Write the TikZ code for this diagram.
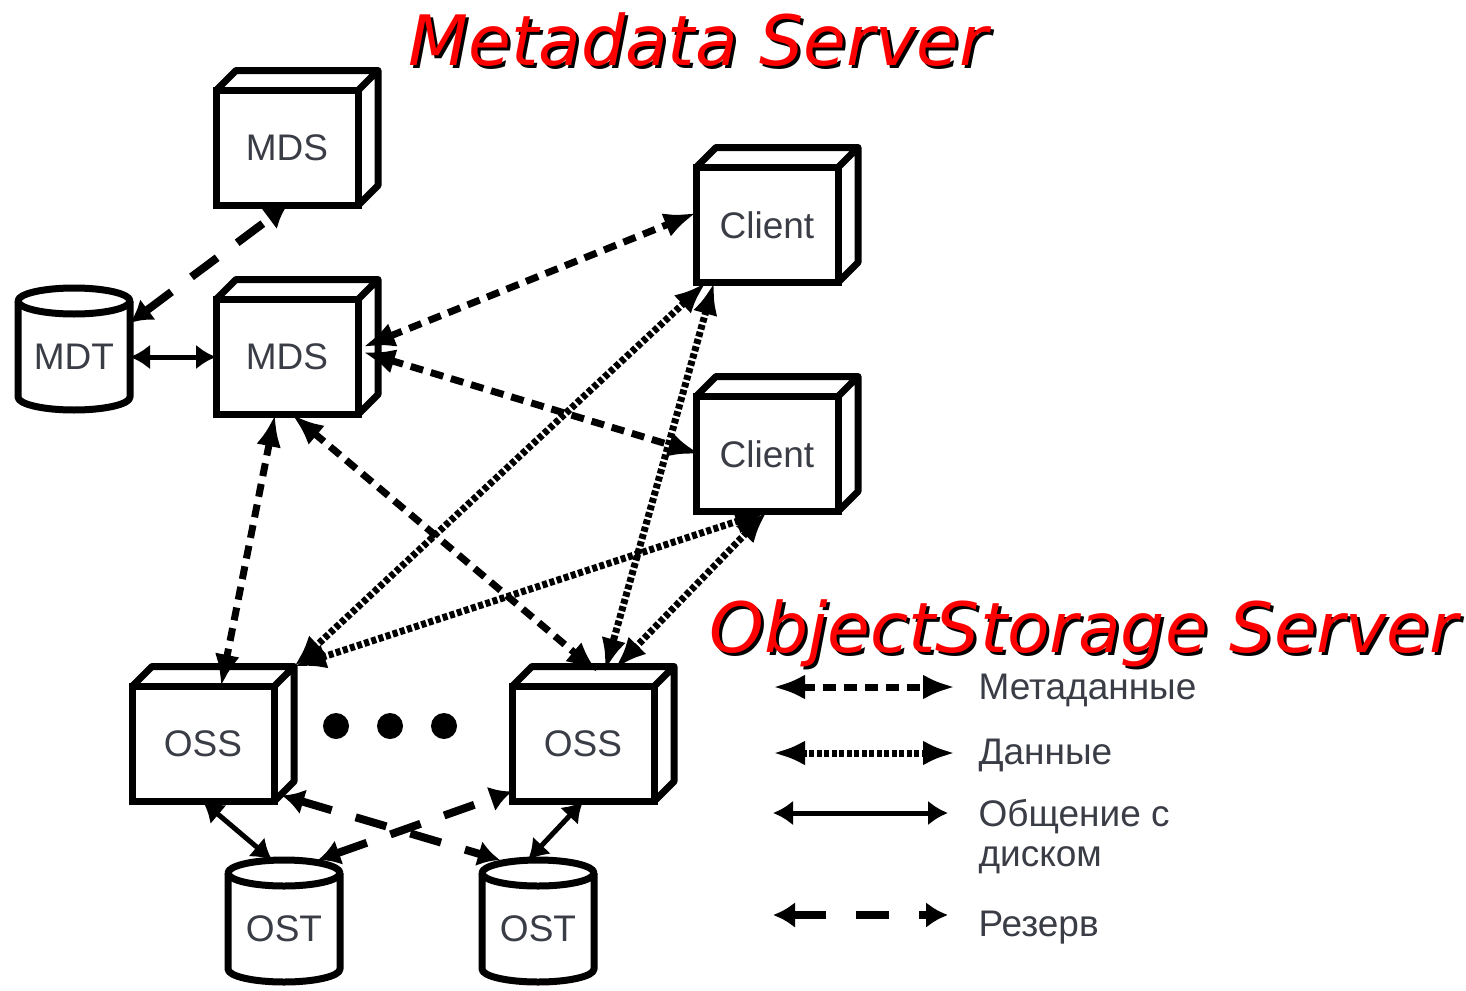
\documentclass[tikz,border=0pt]{standalone}
\usepackage{fontspec}
\setmainfont{Liberation Sans}
\newfontfamily\titlefont{DejaVu Sans}
\usetikzlibrary{arrows.meta}
\definecolor{labelgray}{RGB}{58,60,70}

\begin{document}
\begin{tikzpicture}[x=1pt,y=-1pt,
  server node/.style={rectangle,draw,fill=white,line width=7pt,minimum width=142pt,minimum height=115pt,inner sep=0pt,outer sep=0pt,text=labelgray,font=\fontsize{37}{40}\selectfont},
  disk node/.style={rectangle,minimum width=112pt,minimum height=122pt,inner sep=0pt,outer sep=0pt,text=labelgray,text height=40pt,text depth=0pt,font=\fontsize{37}{40}\selectfont},
  face/.style={line width=7pt,line join=round},
  ellipsis dot/.style={circle,fill=black,minimum size=26pt,inner sep=0pt},
  meta link/.style={line width=7pt,dash pattern=on 13pt off 8pt,>={Latex[length=32pt,width=25pt]},<->},
  data link/.style={line width=7pt,dash pattern=on 5pt off 2.5pt,>={Latex[length=32pt,width=25pt]},<->},
  disk link/.style={line width=5pt,>={Latex[length=20pt,width=25pt]},<->},
  backup link/.style={line width=8pt,dash pattern=on 32pt off 25pt,>={Latex[length=22pt,width=26pt]},<->},
  legend text/.style={anchor=base west,text=labelgray,font=\fontsize{37}{40}\selectfont},
  title text/.style={anchor=base west,font=\titlefont\itshape\fontsize{69.5}{80}\selectfont}]

  \useasboundingbox (0,0) rectangle (1466,990);

  \node[server node] (mds1) at (287,148) {MDS};
  \node[server node] (mds2) at (287,357) {MDS};
  \node[server node] (cl1) at (767,225) {Client};
  \node[server node] (cl2) at (767,454) {Client};
  \node[server node] (oss1) at (203,744) {OSS};
  \node[server node] (oss2) at (583,744) {OSS};

  \node[disk node] (mdt) at (74,349) {MDT};
  \node[disk node] (ost1) at (284,921) {OST};
  \node[disk node] (ost2) at (538,921) {OST};

  \foreach \n in {mds1,mds2,cl1,cl2,oss1,oss2}
    \draw[face] (\n.north west) -- ++(20,-20) -- ++(142,0) -- ++(0,115) -- (\n.south east)
      (\n.north east) -- ++(20,-20);

  \foreach \n in {mdt,ost1,ost2} {
    \draw[face] ([yshift=-13pt]\n.north west) -- ([yshift=13pt]\n.south west) arc (180:0:56 and 13)
      -- ([yshift=-13pt]\n.north east);
    \draw[face] ([yshift=-13pt]\n.north) ellipse (56 and 13);
  }

  \node[ellipsis dot] (dot1) at (336,726) {};
  \node[ellipsis dot] (dot2) at (390,726) {};
  \node[ellipsis dot] (dot3) at (444,726) {};

  \draw[backup link] (mdt.25) -- (mds1.south);
  \draw[disk link] ([yshift=-8pt]mdt.east) -- (mds2.west);

  \draw[meta link] ([shift={(5,-10)}]mds2.east) -- ([yshift=12pt]cl1.west);
  \draw[meta link] ([shift={(5,-5)}]mds2.east) -- ([xshift=4pt]cl2.west);
  \draw[meta link] ([xshift=-12pt]mds2.south) -- ([xshift=18pt]oss1.north);
  \draw[meta link] ([xshift=5pt]mds2.south) -- ([shift={(15,-14)}]oss2.north);

  \draw[data link] ([xshift=10pt]cl1.south west) -- ([shift={(20,-20)}]oss1.north east);
  \draw[data link] ([xshift=18pt]cl1.south west) -- ([shift={(22,-16)}]oss2.north);
  \draw[data link] (cl2.south) -- ([shift={(20,-20)}]oss1.north east);
  \draw[data link] (cl2.south) -- ([shift={(32,-18)}]oss2.north);

  \draw[disk link] (oss1.south) -- ([xshift=-12pt]ost1.north);
  \draw[disk link] (oss2.south) -- ([xshift=-10pt]ost2.north);
  \draw[backup link] ([shift={(8,-6)}]oss1.south east) -- ([xshift=18pt]ost2.north west);
  \draw[backup link] ([xshift=-22pt]ost1.north east) -- ([yshift=10pt]oss2.south west);

  \coordinate (lm1) at (773,687); \coordinate (lm2) at (955,687);
  \coordinate (ld1) at (773,753); \coordinate (ld2) at (955,753);
  \coordinate (ls1) at (773,813); \coordinate (ls2) at (948,813);
  \coordinate (lb1) at (773,915); \coordinate (lb2) at (948,915);
  \draw[meta link] (lm1) -- (lm2);
  \draw[data link] (ld1) -- (ld2);
  \draw[disk link] (ls1) -- (ls2);
  \draw[backup link,dash pattern=on 33pt off 30pt] (lb1) -- (lb2);

  \node[legend text] (lg1) at (975,699) {Метаданные};
  \node[legend text] (lg2) at (975,764) {Данные};
  \node[legend text] (lg3) at (975,826) {Общение с};
  \node[legend text] (lg4) at (975,866) {диском};
  \node[legend text] (lg5) at (975,936) {Резерв};

  \node[title text,text=black] (mdsshadow) at (408,69) {Metadata Server};
  \node[title text,text=red] (mdstitle) at (405,66) {Metadata Server};
  \node[title text,text=black] (ossshadow) at (709,655) {ObjectStorage Server};
  \node[title text,text=red] (osstitle) at (706,652) {ObjectStorage Server};
\end{tikzpicture}
\end{document}
